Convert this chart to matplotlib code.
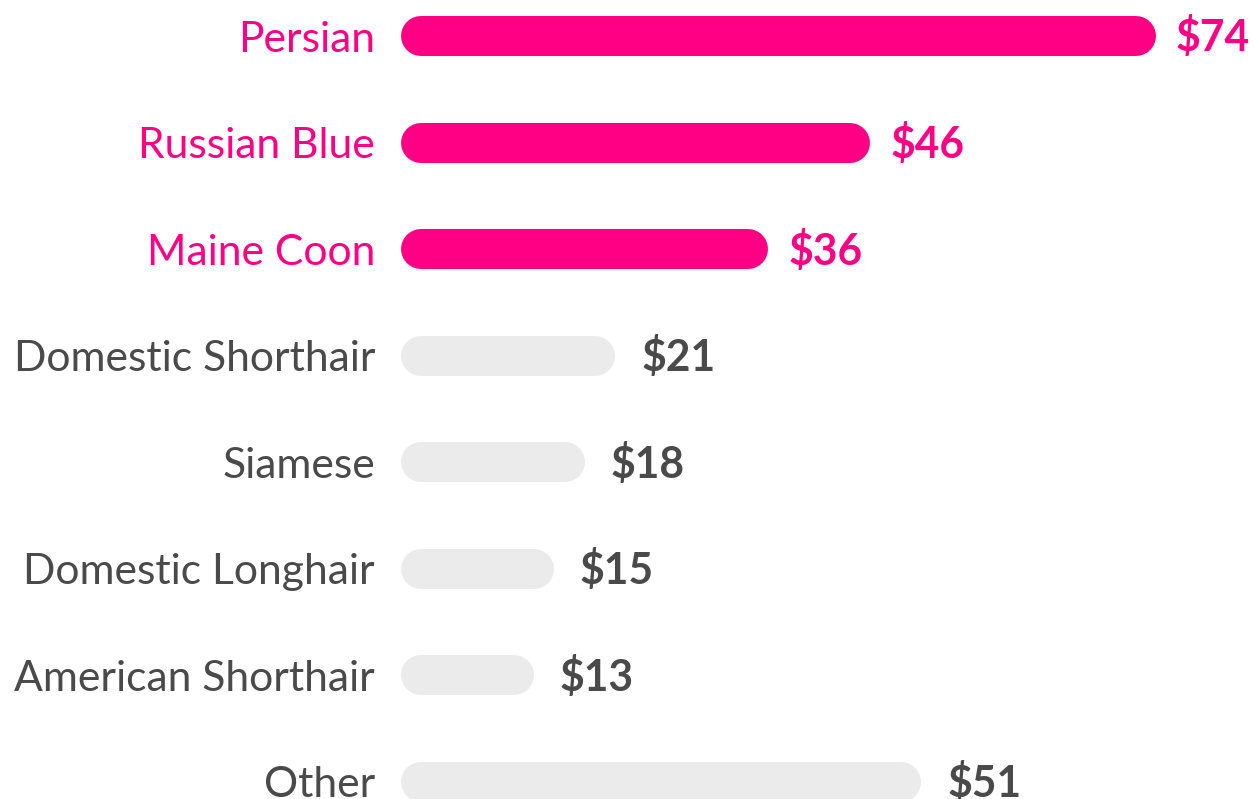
"""Cat breed spend: horizontal rounded bars with value labels."""

import matplotlib.pyplot as plt

breeds = ["Persian", "Russian Blue", "Maine Coon", "Domestic Shorthair",
          "Siamese", "Domestic Longhair", "American Shorthair", "Other"]
spend = [74, 46, 36, 21, 18, 15, 13, 51]
highlight = [True, True, True, False, False, False, False, False]

PINK = "#FF0084"
GRAY_BAR = "#EBEBEB"
GRAY_TXT = "#4A4A4A"

plt.rcParams["font.family"] = ["Lato", "DejaVu Sans"]

W, H, DPI = 1254, 799, 100
fig = plt.figure(figsize=(W / DPI, H / DPI), dpi=DPI)

x0_px = 401          # bar start
px_per_unit = 10.2
ax = fig.add_axes([x0_px / W, 0, 1 - x0_px / W, 1])
ax.set_xlim(0, (W - x0_px) / px_per_unit)
row_px = 106.57
top_px = 36
ax.set_ylim(7 + (H - top_px - 7 * row_px) / row_px, -top_px / row_px)
ax.axis("off")

bar_h_px = 40
r = (bar_h_px / 2) / px_per_unit
lw = bar_h_px * 72 / DPI
fs = 30.7

for i, (name, v, hi) in enumerate(zip(breeds, spend, highlight)):
    bar_col = PINK if hi else GRAY_BAR
    txt_col = PINK if hi else GRAY_TXT
    ax.plot([r, v - r], [i, i], color=bar_col, lw=lw,
            solid_capstyle="round", clip_on=False)
    ax.annotate(name, (0, i), xytext=(-26, -15.5), textcoords="offset pixels",
                ha="right", va="baseline", fontsize=fs, color=txt_col,
                annotation_clip=False)
    gap = 20 if hi else 26
    ax.annotate(f"${v}", (v, i), xytext=(gap, -15.5), textcoords="offset pixels",
                ha="left", va="baseline", fontsize=fs, fontweight="bold",
                color=txt_col, annotation_clip=False)

fig.savefig("out.png", dpi=DPI)
